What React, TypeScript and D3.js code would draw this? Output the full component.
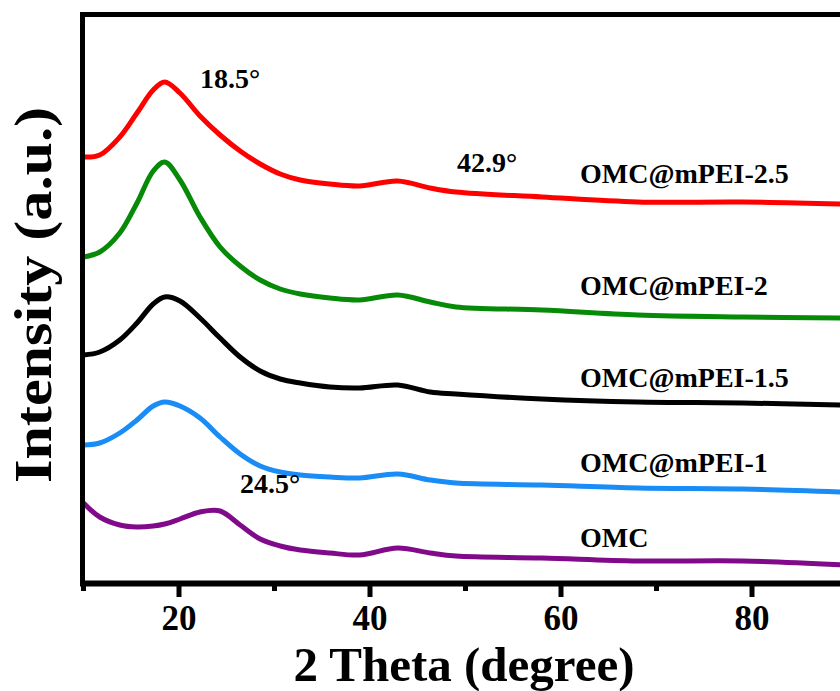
import { useEffect, useRef } from 'react';
import * as d3 from 'd3';

// 2 theta sample positions (degree)
const twoTheta = [10, 11.7, 13.8, 15.6, 17.3, 18.5, 20.1, 22.2, 24.3, 26.4, 28.5, 30.6, 32.7, 35.8, 38.9, 42.9, 46.3, 49, 58, 68, 79, 89.5];

// intensities (a.u., already offset for stacking)
const omcPei25 = [426, 428, 446, 470, 493, 501, 490, 467, 448, 432, 419, 409, 403, 399, 397, 402, 395, 391, 386, 381, 381, 379];
const omcPei2 = [326, 331, 350, 380, 412, 421, 403, 366, 336, 317, 303, 294, 289, 285, 283, 288, 281, 276, 273, 268, 266, 265];
const omcPei15 = [228, 231, 243, 260, 279, 286, 282, 265, 245, 226, 212, 204, 200, 196, 195, 198, 191, 189, 184, 181, 180, 178];
const omcPei1 = [138, 140, 150, 163, 177, 181, 177, 165, 146, 129, 117, 111, 108, 106, 105, 109, 103, 100, 98, 95, 94, 91];
const omc = [80, 66, 58, 56, 57, 59, 64, 71, 72, 58, 44, 37, 33, 30, 28, 35, 30, 27, 25, 22, 22, 18];

const seriesNames = ['OMC@mPEI-2.5', 'OMC@mPEI-2', 'OMC@mPEI-1.5', 'OMC@mPEI-1', 'OMC'];
const seriesValues = [omcPei25, omcPei2, omcPei15, omcPei1, omc];
const colors = ['#ff0000', '#078a07', '#000000', '#1a8cf5', '#800a8a'];
// label baselines in intensity units
const labelLevels = [400, 288, 196, 111, 36];

const peakLabels = [
  { text: '18.5°', x: 22.2, y: 495 },
  { text: '42.9°', x: 49.1, y: 411 },
  { text: '24.5°', x: 26.4, y: 90 },
];

const majorTicks = [20, 40, 60, 80];
const minorTicks = [10, 30, 50, 70, 90];

const App = () => {
  const ref = useRef<SVGSVGElement>(null);
  const width = 840;
  const height = 691;
  const font = '"Liberation Serif", "Times New Roman", serif';

  useEffect(() => {
    const svg = d3.select(ref.current);
    svg.selectAll('*').remove();

    const x = d3.scaleLinear().domain([10, 90]).range([83.5, 847.5]);
    const y = d3.scaleLinear().domain([0, 570]).range([583, 13]);

    svg
      .append('defs')
      .append('clipPath')
      .attr('id', 'plot-clip')
      .append('rect')
      .attr('x', 83)
      .attr('y', 14)
      .attr('width', 800)
      .attr('height', 568);

    const line = d3
      .line<number>()
      .x((d, i) => x(twoTheta[i]))
      .y(d => y(d))
      .curve(d3.curveCatmullRom.alpha(0.5));

    svg
      .append('g')
      .attr('clip-path', 'url(#plot-clip)')
      .selectAll('path')
      .data(seriesValues)
      .enter()
      .append('path')
      .attr('d', d => line(d))
      .attr('fill', 'none')
      .attr('stroke', (d, i) => colors[i])
      .attr('stroke-width', 5)
      .attr('stroke-linejoin', 'round');

    // frame: top line and left axis
    svg
      .append('line')
      .attr('x1', 80)
      .attr('x2', 840)
      .attr('y1', 14.5)
      .attr('y2', 14.5)
      .attr('stroke', '#000')
      .attr('stroke-width', 5);
    svg
      .append('line')
      .attr('x1', 82.5)
      .attr('x2', 82.5)
      .attr('y1', 12)
      .attr('y2', 586)
      .attr('stroke', '#000')
      .attr('stroke-width', 5);

    // bottom axis
    const axis = svg.append('g');
    axis
      .append('line')
      .attr('x1', 80)
      .attr('x2', 840)
      .attr('y1', 583.5)
      .attr('y2', 583.5)
      .attr('stroke', '#000')
      .attr('stroke-width', 6);
    axis
      .selectAll('line.major')
      .data(majorTicks)
      .enter()
      .append('line')
      .attr('class', 'major')
      .attr('x1', d => x(d))
      .attr('x2', d => x(d))
      .attr('y1', 584)
      .attr('y2', 597)
      .attr('stroke', '#000')
      .attr('stroke-width', 5);
    axis
      .selectAll('line.minor')
      .data(minorTicks)
      .enter()
      .append('line')
      .attr('class', 'minor')
      .attr('x1', d => x(d))
      .attr('x2', d => x(d))
      .attr('y1', 584)
      .attr('y2', 591)
      .attr('stroke', '#000')
      .attr('stroke-width', 5);
    axis
      .selectAll('text')
      .data(majorTicks)
      .enter()
      .append('text')
      .attr('x', d => x(d))
      .attr('y', 630)
      .attr('text-anchor', 'middle')
      .style('font-family', font)
      .style('font-weight', 'bold')
      .style('font-size', '35px')
      .text(d => d);

    svg
      .append('text')
      .attr('x', 464)
      .attr('y', 681)
      .attr('text-anchor', 'middle')
      .style('font-family', font)
      .style('font-weight', 'bold')
      .style('font-size', '49px')
      .text('2 Theta (degree)');

    svg
      .append('text')
      .attr('transform', 'translate(51, 295) rotate(-90)')
      .attr('text-anchor', 'middle')
      .attr('textLength', 376)
      .attr('lengthAdjust', 'spacingAndGlyphs')
      .style('font-family', font)
      .style('font-weight', 'bold')
      .style('font-size', '52px')
      .text('Intensity (a.u.)');

    // series labels
    svg
      .selectAll('text.series')
      .data(seriesNames)
      .enter()
      .append('text')
      .attr('class', 'series')
      .attr('x', 580)
      .attr('y', (d, i) => y(labelLevels[i]))
      .style('font-family', font)
      .style('font-weight', 'bold')
      .style('font-size', '28px')
      .text(d => d);

    // peak annotations
    svg
      .selectAll('text.peak')
      .data(peakLabels)
      .enter()
      .append('text')
      .attr('class', 'peak')
      .attr('x', d => x(d.x))
      .attr('y', d => y(d.y))
      .style('font-family', font)
      .style('font-weight', 'bold')
      .style('font-size', '28px')
      .text(d => d.text);
  }, []);

  return (
    <svg
      ref={ref}
      width={width}
      height={height}
      style={{ position: 'absolute', left: 0, top: 0, background: '#fff' }}
    />
  );
};

export default App;
